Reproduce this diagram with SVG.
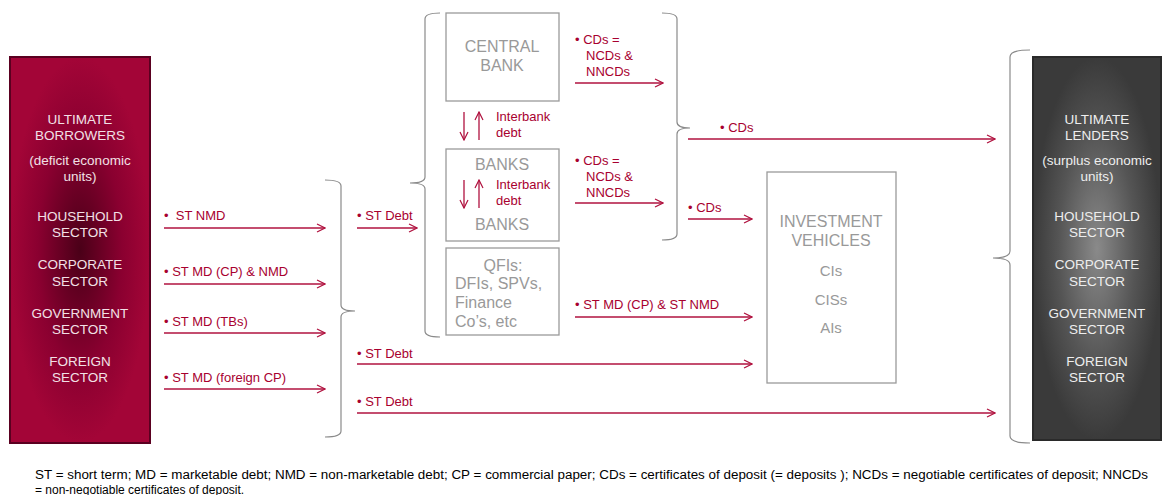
<svg xmlns="http://www.w3.org/2000/svg" width="1163" height="495" viewBox="0 0 1163 495">
<defs>
<radialGradient id="gBorrow" cx="0.5" cy="0.5" r="0.5">
<stop offset="0" stop-color="#4a0018"/>
<stop offset="0.6" stop-color="#8a0030"/>
<stop offset="1" stop-color="#a30537"/>
</radialGradient>
<radialGradient id="gLend" cx="0.5" cy="0.5" r="0.5">
<stop offset="0" stop-color="#8a8a8a"/>
<stop offset="0.6" stop-color="#555"/>
<stop offset="1" stop-color="#3a3a3a"/>
</radialGradient>
<marker id="ah" markerWidth="10" markerHeight="10" refX="9" refY="5" orient="auto" markerUnits="userSpaceOnUse">
<path d="M1,1 L9,5 L1,9" fill="none" stroke="#b0123f" stroke-width="1.2"/>
</marker>
<style>
.arr{stroke:#b0123f;stroke-width:1.3;fill:none;marker-end:url(#ah)}
.br{stroke:#8a8a8a;stroke-width:1.2;fill:none}
.box{fill:#fff;stroke:#9a9a9a;stroke-width:1.3}
.lbl{font-family:"Liberation Sans",Arial,sans-serif;font-size:13px;fill:#a8002f}
.gt{font-family:"Liberation Sans",Arial,sans-serif;font-size:16px;fill:#999;text-anchor:middle}
.wt{font-family:"Liberation Sans",Arial,sans-serif;font-size:13.5px;fill:#f2e0e6;text-anchor:middle}
.lt{font-family:"Liberation Sans",Arial,sans-serif;font-size:13.5px;fill:#eeeeee;text-anchor:middle}
.ft{font-family:"Liberation Sans",Arial,sans-serif;font-size:12px;fill:#000}
</style>
</defs>
<rect width="1163" height="495" fill="#fff"/>

<g id="borrowers">
<rect x="10" y="57" width="140" height="386" fill="url(#gBorrow)" stroke="#5a0020" stroke-width="2"/>
<text class="wt" x="80" y="124">ULTIMATE</text>
<text class="wt" x="80" y="140">BORROWERS</text>
<text class="wt" x="80" y="165">(deficit economic</text>
<text class="wt" x="80" y="181">units)</text>
<text class="wt" x="80" y="221">HOUSEHOLD</text>
<text class="wt" x="80" y="237">SECTOR</text>
<text class="wt" x="80" y="269">CORPORATE</text>
<text class="wt" x="80" y="286">SECTOR</text>
<text class="wt" x="80" y="318">GOVERNMENT</text>
<text class="wt" x="80" y="334">SECTOR</text>
<text class="wt" x="80" y="366">FOREIGN</text>
<text class="wt" x="80" y="382">SECTOR</text>
</g>

<g id="lenders">
<rect x="1033" y="57" width="128" height="383" fill="url(#gLend)" stroke="#2a2a2a" stroke-width="2"/>
<text class="lt" x="1097" y="124">ULTIMATE</text>
<text class="lt" x="1097" y="140">LENDERS</text>
<text class="lt" x="1097" y="165">(surplus economic</text>
<text class="lt" x="1097" y="181">units)</text>
<text class="lt" x="1097" y="221">HOUSEHOLD</text>
<text class="lt" x="1097" y="237">SECTOR</text>
<text class="lt" x="1097" y="269">CORPORATE</text>
<text class="lt" x="1097" y="286">SECTOR</text>
<text class="lt" x="1097" y="318">GOVERNMENT</text>
<text class="lt" x="1097" y="334">SECTOR</text>
<text class="lt" x="1097" y="366">FOREIGN</text>
<text class="lt" x="1097" y="382">SECTOR</text>
</g>

<g id="central-bank">
<rect class="box" x="446" y="13" width="113" height="88"/>
<text class="gt" x="502" y="52">CENTRAL</text>
<text class="gt" x="502" y="71">BANK</text>
</g>

<g id="banks">
<rect class="box" x="446" y="149" width="113" height="92"/>
<text class="gt" x="502" y="170">BANKS</text>
<text class="gt" x="502" y="230">BANKS</text>
</g>

<g id="qfis">
<rect class="box" x="446" y="248" width="113" height="87"/>
<text class="gt" x="503" y="271">QFIs:</text>
<text class="gt" x="455" y="289" style="text-anchor:start">DFIs, SPVs,</text>
<text class="gt" x="455" y="308" style="text-anchor:start">Finance</text>
<text class="gt" x="455" y="327" style="text-anchor:start">Co’s, etc</text>
</g>

<g id="investment-vehicles">
<rect class="box" x="767" y="172" width="129" height="211"/>
<text class="gt" x="831" y="227">INVESTMENT</text>
<text class="gt" x="831" y="246">VEHICLES</text>
<text class="gt" x="831" y="276" style="font-size:15px">CIs</text>
<text class="gt" x="831" y="305" style="font-size:15px">CISs</text>
<text class="gt" x="831" y="333" style="font-size:15px">AIs</text>
</g>

<g id="braces">
<path class="br" d="M325,180 Q341,180 341,186 L341,305 Q341,311 355,311 Q341,311 341,317 L341,431 Q341,437 325,437"/>
<path class="br" d="M440,13 Q425,13 425,19 L425,177 Q425,183 410,183 Q425,183 425,189 L425,331 Q425,337 440,337"/>
<path class="br" d="M662,13 Q677,13 677,19 L677,122 Q677,128 690,128 Q677,128 677,134 L677,234 Q677,240 662,240"/>
<path class="br" d="M1030,50 Q1010,50 1010,57 L1010,251 Q1010,258 993,258 Q1010,258 1010,265 L1010,436 Q1010,443 1030,443"/>
</g>

<g id="connectors">
<path class="arr" d="M164,228 H325"/>
<path class="arr" d="M164,284 H325"/>
<path class="arr" d="M164,333 H325"/>
<path class="arr" d="M164,389 H325"/>
<path class="arr" d="M357,228 H417"/>
<path class="arr" d="M357,364 H752"/>
<path class="arr" d="M357,413 H995"/>
<path class="arr" d="M575,83 H663"/>
<path class="arr" d="M575,203 H663"/>
<path class="arr" d="M688,139 H995"/>
<path class="arr" d="M688,219 H752"/>
<path class="arr" d="M575,317 H752"/>
<path class="arr" d="M464,112 V140"/>
<path class="arr" d="M479,140 V112"/>
<path class="arr" d="M464,180 V208"/>
<path class="arr" d="M479,208 V180"/>
</g>

<g id="labels">
<text class="lbl" x="164" y="220">•&#160; ST NMD</text>
<text class="lbl" x="164" y="276">• ST MD (CP) &amp; NMD</text>
<text class="lbl" x="164" y="326">• ST MD (TBs)</text>
<text class="lbl" x="164" y="382">• ST MD (foreign CP)</text>
<text class="lbl" x="357" y="220">• ST Debt</text>
<text class="lbl" x="357" y="358">• ST Debt</text>
<text class="lbl" x="357" y="406">• ST Debt</text>
<text class="lbl" x="575" y="44">• CDs =</text>
<text class="lbl" x="586" y="60">NCDs &amp;</text>
<text class="lbl" x="586" y="76">NNCDs</text>
<text class="lbl" x="575" y="165">• CDs =</text>
<text class="lbl" x="586" y="181">NCDs &amp;</text>
<text class="lbl" x="586" y="197">NNCDs</text>
<text class="lbl" x="496" y="121">Interbank</text>
<text class="lbl" x="496" y="137">debt</text>
<text class="lbl" x="496" y="189">Interbank</text>
<text class="lbl" x="496" y="205">debt</text>
<text class="lbl" x="720" y="132">• CDs</text>
<text class="lbl" x="688" y="212">• CDs</text>
<text class="lbl" x="575" y="309">• ST MD (CP) &amp; ST NMD</text>
</g>

<g id="footer">
<text class="ft" x="35" y="479" textLength="1113" lengthAdjust="spacingAndGlyphs">ST = short term; MD = marketable debt; NMD = non-marketable debt; CP = commercial paper; CDs = certificates of deposit (= deposits ); NCDs = negotiable certificates of deposit; NNCDs</text>
<text class="ft" x="35" y="494">= non-negotiable certificates of deposit.</text>
</g>
</svg>
